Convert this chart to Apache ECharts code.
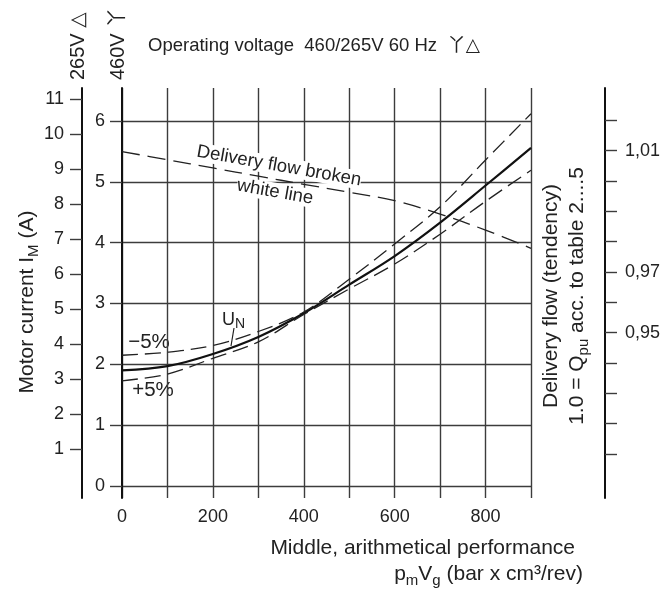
<!DOCTYPE html>
<html>
<head>
<meta charset="utf-8">
<script src="https://cdn.jsdelivr.net/npm/echarts@6/dist/echarts.min.js"></script>
<style>
  html, body { margin: 0; padding: 0; background: #fff; }
  #chart { width: 669px; height: 589px; }
</style>
</head>
<body>
<div id="chart"></div>
<script>
// Load axis: middle arithmetical performance pm*Vg (bar x cm3/rev)
const loadX = [0, 100, 200, 300, 400, 500, 600, 700, 800, 900];

// Motor current, 460 V star scale (A)
const currentNominal = [1.90, 1.97, 2.17, 2.45, 2.84, 3.31, 3.78, 4.33, 4.94, 5.56];
const currentMinus5  = [2.15, 2.20, 2.31, 2.54, 2.86, 3.40, 3.98, 4.59, 5.36, 6.12];
const currentPlus5   = [1.73, 1.84, 2.10, 2.37, 2.82, 3.24, 3.65, 4.14, 4.68, 5.19];

// Delivery flow tendency (1.0 = Qpu)
const flowTendency = [1.0097, 1.0070, 1.0043, 1.0016, 0.9989, 0.9963, 0.9935, 0.9891, 0.9838, 0.9778];

// Tick values
const xTickLabels = [0, 200, 400, 600, 800];
const starTicks = [0, 1, 2, 3, 4, 5, 6];
const deltaTicks = [1, 2, 3, 4, 5, 6, 7, 8, 9, 10, 11];
const flowTicks = [0.91, 0.92, 0.93, 0.94, 0.95, 0.96, 0.97, 0.98, 0.99, 1.00, 1.01, 1.02];
const flowTickLabels = [0.95, 0.97, 1.01];

const FONT = "'Liberation Sans', 'DejaVu Sans', 'Noto Sans CJK SC', sans-serif";
const TEXT = '#222';
const GRID = '#3c3c3c';
const AXIS = '#111';
const NAME_SIZE = 21;

const pair = (xs, ys) => xs.map((x, i) => [x, ys[i]]);

const labelStyle = { fontSize: 18, color: TEXT, fontFamily: FONT };
const sub = { fontSize: 15, fontFamily: FONT, fill: TEXT, verticalAlign: 'bottom', lineHeight: 15 };

const chart = echarts.init(document.getElementById('chart'), null, { renderer: 'canvas' });

chart.setOption({
  animation: false,
  backgroundColor: '#fff',
  grid: { left: 122, right: 138, top: 88, bottom: 91, containLabel: false },
  xAxis: {
    type: 'value', min: 0, max: 900, interval: 100,
    axisLine: { show: false, onZero: false },
    axisTick: { show: false },
    axisLabel: Object.assign({ margin: 10, formatter: v => xTickLabels.includes(v) ? String(v) : '' }, labelStyle),
    splitLine: { show: true, lineStyle: { color: GRID, width: 1.4 } }
  },
  yAxis: [
    {
      type: 'value', position: 'left', min: -0.197, max: 6.543,
      axisLine: { show: true, onZero: false, lineStyle: { color: AXIS, width: 2 } },
      axisTick: { show: true, customValues: starTicks, length: 12, lineStyle: { color: GRID, width: 1.4 } },
      axisLabel: Object.assign({ customValues: starTicks, margin: 17 }, labelStyle),
      splitLine: { show: true, lineStyle: { color: GRID, width: 1.4 } }
    },
    {
      type: 'value', position: 'left', offset: 40, min: -0.394, max: 11.32,
      axisLine: { show: true, onZero: false, lineStyle: { color: AXIS, width: 2 } },
      axisTick: { show: true, customValues: deltaTicks, length: 12, lineStyle: { color: GRID, width: 1.4 } },
      axisLabel: Object.assign({ customValues: deltaTicks, margin: 18 }, labelStyle),
      splitLine: { show: false }
    },
    {
      type: 'value', position: 'right', offset: 74, min: 0.89548, max: 1.03066,
      axisLine: { show: true, onZero: false, lineStyle: { color: AXIS, width: 2 } },
      axisTick: { show: true, customValues: flowTicks, length: 12, lineStyle: { color: GRID, width: 1.4 } },
      axisLabel: Object.assign({
        customValues: flowTickLabels, margin: 20,
        formatter: v => v.toFixed(2).replace('.', ',')
      }, labelStyle),
      splitLine: { show: false }
    }
  ],
  series: [
    {
      name: 'UN', type: 'line', yAxisIndex: 0, data: pair(loadX, currentNominal),
      smooth: 0.35, symbol: 'none', lineStyle: { color: AXIS, width: 2.2 }
    },
    {
      name: '-5%', type: 'line', yAxisIndex: 0, data: pair(loadX, currentMinus5),
      smooth: 0.35, symbol: 'none', lineStyle: { color: TEXT, width: 1.3, type: [16, 7] }
    },
    {
      name: '+5%', type: 'line', yAxisIndex: 0, data: pair(loadX, currentPlus5),
      smooth: 0.35, symbol: 'none', lineStyle: { color: TEXT, width: 1.3, type: [16, 7] }
    },
    {
      name: 'Delivery flow', type: 'line', yAxisIndex: 2, data: pair(loadX, flowTendency),
      smooth: 0.35, symbol: 'none', lineStyle: { color: TEXT, width: 1.3, type: [18, 8] }
    }
  ],
  graphic: [
    // voltage scale headers
    { type: 'text', x: 78, y: 80, rotation: Math.PI / 2,
      style: { text: '265V △', fontSize: 20, fontFamily: FONT, fill: TEXT, align: 'left', verticalAlign: 'middle' } },
    { type: 'text', x: 118, y: 80, rotation: Math.PI / 2,
      style: { text: '460V 丫', fontSize: 20, fontFamily: FONT, fill: TEXT, align: 'left', verticalAlign: 'middle' } },
    // title
    { type: 'text', x: 148, y: 46,
      style: { text: 'Operating voltage  460/265V 60 Hz  丫△', fontSize: 18.5, fontFamily: FONT, fill: TEXT, align: 'left', verticalAlign: 'middle' } },
    // left axis name
    { type: 'text', x: 27, y: 302, rotation: Math.PI / 2,
      style: { text: 'Motor current I{s|M} (A)', fontSize: NAME_SIZE, lineHeight: 28, fontFamily: FONT, fill: TEXT,
               align: 'center', verticalAlign: 'middle', rich: { s: sub } } },
    // right axis name
    { type: 'text', x: 551, y: 296, rotation: Math.PI / 2,
      style: { text: 'Delivery flow (tendency)', fontSize: NAME_SIZE, fontFamily: FONT, fill: TEXT, align: 'center', verticalAlign: 'middle' } },
    { type: 'text', x: 577, y: 296, rotation: Math.PI / 2,
      style: { text: '1.0 = Q{s|pu} acc. to table 2....5', fontSize: NAME_SIZE, lineHeight: 28, fontFamily: FONT, fill: TEXT,
               align: 'center', verticalAlign: 'middle', rich: { s: sub } } },
    // x axis name
    { type: 'text', x: 575, y: 548,
      style: { text: 'Middle, arithmetical performance', fontSize: NAME_SIZE, fontFamily: FONT, fill: TEXT, align: 'right', verticalAlign: 'middle' } },
    { type: 'text', x: 583, y: 574,
      style: { text: 'p{s|m}V{s|g} (bar x cm³/rev)', fontSize: NAME_SIZE, lineHeight: 28, fontFamily: FONT, fill: TEXT,
               align: 'right', verticalAlign: 'middle', rich: { s: sub } } },
    // curve annotations (white box hides the grid, the flow line stays on top)
    { type: 'text', x: 279, y: 166, rotation: -10 * Math.PI / 180, z: 1,
      style: { text: 'Delivery flow broken', fontSize: 18.5, fontFamily: FONT, fill: TEXT, align: 'center', verticalAlign: 'middle',
               backgroundColor: '#fff' } },
    { type: 'text', x: 275, y: 192, rotation: -10 * Math.PI / 180, z: 1,
      style: { text: 'white line', fontSize: 18.5, fontFamily: FONT, fill: TEXT, align: 'center', verticalAlign: 'middle',
               backgroundColor: '#fff' } },
    { type: 'text', x: 149, y: 342,
      style: { text: '−5%', fontSize: 20.5, fontFamily: FONT, fill: TEXT, align: 'center', verticalAlign: 'middle' } },
    { type: 'text', x: 153, y: 390,
      style: { text: '+5%', fontSize: 20.5, fontFamily: FONT, fill: TEXT, align: 'center', verticalAlign: 'middle' } },
    { type: 'text', x: 222, y: 320,
      style: { text: 'U{n|N}', fontSize: 18, lineHeight: 22, fontFamily: FONT, fill: TEXT, align: 'left', verticalAlign: 'middle',
               rich: { n: { fontSize: 14, fontFamily: FONT, fill: TEXT, verticalAlign: 'bottom', lineHeight: 14 } } } },
    { type: 'line', shape: { x1: 234, y1: 328, x2: 231, y2: 346 }, style: { stroke: TEXT, lineWidth: 1.2 } }
  ]
});
</script>
</body>
</html>
